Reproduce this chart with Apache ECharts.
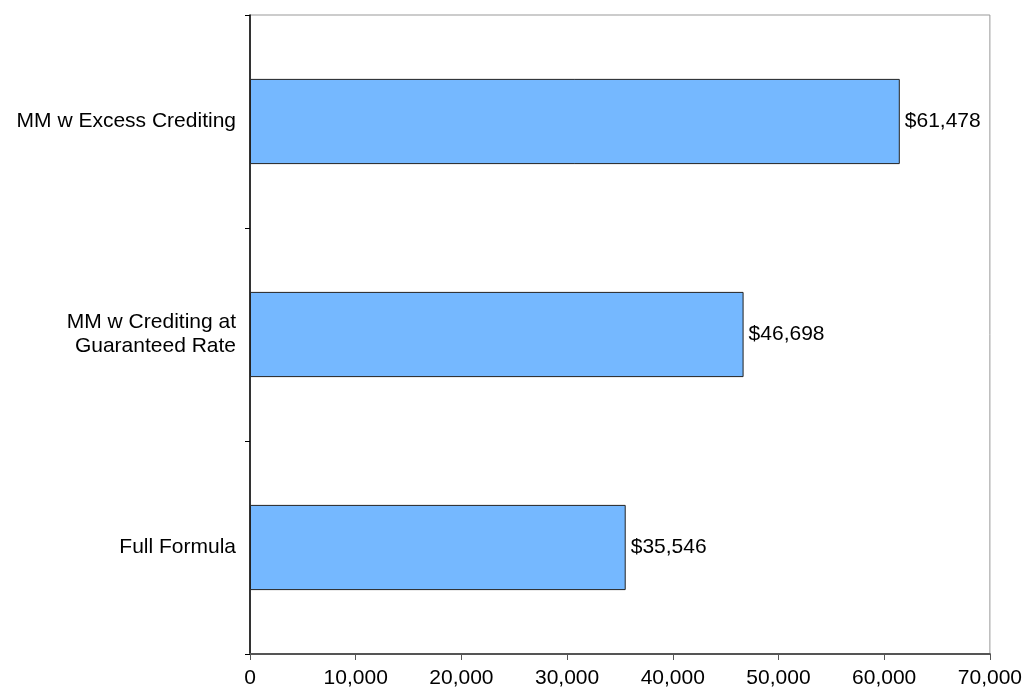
<!DOCTYPE html>
<html><head><meta charset="utf-8">
<script src="https://cdn.jsdelivr.net/npm/echarts@6/dist/echarts.min.js"></script>
<style>html,body{margin:0;padding:0;background:#fff}#c{width:1025px;height:690px}</style>
</head><body><div id="c"></div>
<script>
const categories = ['Full Formula', 'MM w Crediting at\nGuaranteed Rate', 'MM w Excess Crediting'];
const values = [35546, 46698, 61478];
const xTicks = [0, 10000, 20000, 30000, 40000, 50000, 60000, 70000];

const font = '"Liberation Sans", Arial, Helvetica, sans-serif';
const chart = echarts.init(document.getElementById('c'));
chart.setOption({
  animation: false,
  backgroundColor: '#fff',
  grid: { left: 250, right: 35, top: 15, bottom: 36, show: true, borderColor: '#999', borderWidth: 1, backgroundColor: 'transparent' },
  xAxis: {
    type: 'value', min: xTicks[0], max: xTicks[xTicks.length - 1], interval: 10000,
    axisLine: { show: true, lineStyle: { color: '#555', width: 2 } },
    axisTick: { show: true, length: 6, lineStyle: { color: '#555' } },
    splitLine: { show: false },
    axisLabel: { color: '#000', fontSize: 21, fontFamily: font, margin: 14,
      formatter: v => v.toLocaleString('en-US') }
  },
  yAxis: {
    type: 'category', data: categories,
    axisLine: { show: true, lineStyle: { color: '#000', width: 1.5 } },
    axisTick: { show: true, length: 5, lineStyle: { color: '#000' } },
    axisLabel: { color: '#000', fontSize: 21, fontFamily: font, margin: 14, lineHeight: 24, align: 'right' }
  },
  series: [{
    type: 'bar', data: values, barCategoryGap: '60%',
    itemStyle: { color: '#75B8FF', borderColor: '#222', borderWidth: 1 },
    label: { show: true, position: 'right', distance: 5, color: '#000', fontSize: 21, fontFamily: font,
      formatter: p => '$' + p.value.toLocaleString('en-US') }
  }]
});
</script></body></html>
